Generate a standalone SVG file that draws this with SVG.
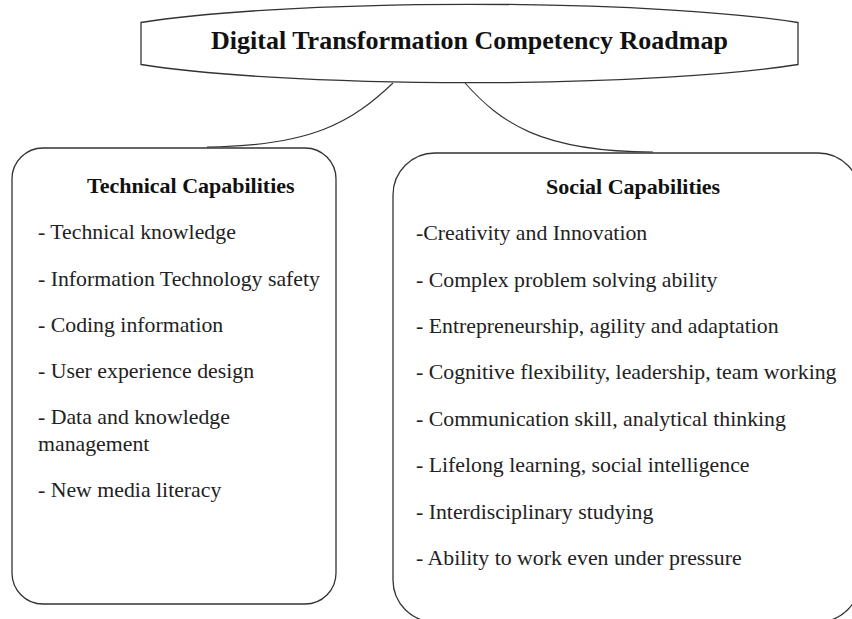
<svg xmlns="http://www.w3.org/2000/svg" width="852" height="619" viewBox="0 0 852 619">
  <style>
    .shape { fill: #ffffff; stroke: #333333; stroke-width: 1.3; }
    .link { fill: none; stroke: #333333; stroke-width: 1.1; }
    text { font-family: 'Liberation Serif', 'Times New Roman', serif; }
    .title { font-weight: bold; font-size: 26px; fill: #111111; }
    .head { font-weight: bold; font-size: 22px; fill: #111111; }
    .item { font-size: 21.8px; fill: #222222; }
  </style>
  <rect width="852" height="619" fill="#ffffff"/>

  <!-- connectors from the roadmap title to both capability boxes -->
  <g id="connectors">
    <path class="link" d="M393,83 C352,122 312,146 207,147"/>
    <path class="link" d="M465,83 C500,122 540,152 653,152"/>
  </g>

  <!-- title: a wide ellipse with flattened ends -->
  <g id="roadmap">
    <path class="shape" d="M141,22.5 A390,39.5 0 0 1 798,22.5 L798,64.5 A390,39.5 0 0 1 141,64.5 Z"/>
    <text class="title" x="469.5" y="49" text-anchor="middle">Digital Transformation Competency Roadmap</text>
  </g>

  <!-- technical capabilities -->
  <g id="technical">
    <rect class="shape" x="12" y="148" width="324" height="456" rx="31" ry="31"/>
    <text class="head" x="87" y="193">Technical Capabilities</text>
    <text class="item" x="38" y="239">- Technical knowledge</text>
    <text class="item" x="38" y="286">- Information Technology safety</text>
    <text class="item" x="38" y="332">- Coding information</text>
    <text class="item" x="38" y="378">- User experience design</text>
    <text class="item" x="38" y="424">- Data and knowledge</text>
    <text class="item" x="38" y="451">management</text>
    <text class="item" x="38" y="497">- New media literacy</text>
  </g>

  <!-- social capabilities -->
  <g id="social">
    <rect class="shape" x="393" y="153" width="467" height="469" rx="42" ry="42"/>
    <text class="head" x="546" y="194">Social Capabilities</text>
    <text class="item" x="416" y="240">-Creativity and Innovation</text>
    <text class="item" x="416" y="287">- Complex problem solving ability</text>
    <text class="item" x="416" y="333">- Entrepreneurship, agility and adaptation</text>
    <text class="item" x="416" y="379">- Cognitive flexibility, leadership, team working</text>
    <text class="item" x="416" y="426">- Communication skill, analytical thinking</text>
    <text class="item" x="416" y="472">- Lifelong learning, social intelligence</text>
    <text class="item" x="416" y="519">- Interdisciplinary studying</text>
    <text class="item" x="416" y="565">- Ability to work even under pressure</text>
  </g>
</svg>
